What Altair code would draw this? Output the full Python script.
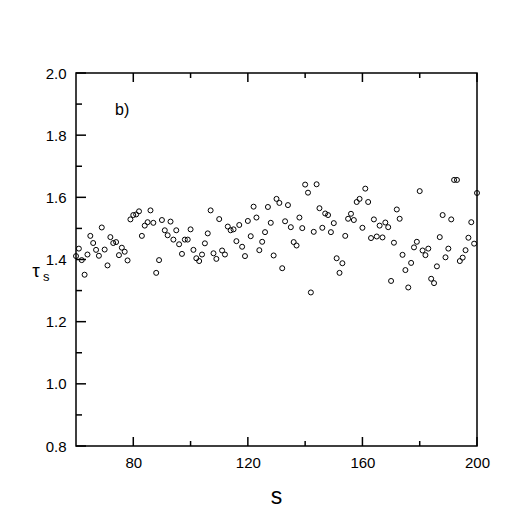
import altair as alt
import pandas as pd

s_vals = list(range(60, 201))
tau_vals = [
    1.411, 1.435, 1.398, 1.351, 1.416, 1.476, 1.453, 1.431, 1.412, 1.503,
    1.432, 1.381, 1.472, 1.453, 1.456, 1.414, 1.438, 1.425, 1.397, 1.529,
    1.543, 1.545, 1.555, 1.476, 1.509, 1.520, 1.558, 1.518, 1.357, 1.398,
    1.527, 1.494, 1.478, 1.522, 1.464, 1.494, 1.449, 1.418, 1.464, 1.464,
    1.497, 1.431, 1.404, 1.395, 1.416, 1.452, 1.484, 1.558, 1.420, 1.402,
    1.530, 1.429, 1.416, 1.506, 1.494, 1.497, 1.459, 1.511, 1.441, 1.411,
    1.524, 1.475, 1.570, 1.535, 1.430, 1.457, 1.488, 1.569, 1.518, 1.413,
    1.595, 1.582, 1.372, 1.523, 1.575, 1.504, 1.456, 1.445, 1.535, 1.501,
    1.641, 1.615, 1.294, 1.489, 1.642, 1.565, 1.502, 1.548, 1.543, 1.488,
    1.517, 1.404, 1.357, 1.388, 1.476, 1.531, 1.547, 1.527, 1.585, 1.595,
    1.502, 1.628, 1.585, 1.469, 1.529, 1.474, 1.509, 1.471, 1.519, 1.504,
    1.331, 1.454, 1.561, 1.531, 1.415, 1.366, 1.310, 1.389, 1.439, 1.457,
    1.620, 1.429, 1.414, 1.435, 1.338, 1.324, 1.378, 1.472, 1.543, 1.407,
    1.435, 1.529, 1.656, 1.656, 1.395, 1.406, 1.430, 1.470, 1.520, 1.451,
    1.614,
]

x_major = [80, 120, 160, 200]
x_minor = [100, 140, 180]
y_major = [0.8, 1.0, 1.2, 1.4, 1.6, 1.8, 2.0]
y_minor = [0.9, 1.1, 1.3, 1.5, 1.7, 1.9]

W, H = 401, 373
FONT = "Liberation Sans"

df = pd.DataFrame({"s": s_vals, "tau": tau_vals})
xs = alt.Scale(domain=[60, 200], nice=False, zero=False)
ys = alt.Scale(domain=[0.8, 2.0], nice=False, zero=False)

points = alt.Chart(df).mark_point(
    shape="circle", filled=False, color="black", size=25, strokeWidth=1, opacity=1
).encode(
    x=alt.X("s:Q", scale=xs,
            axis=alt.Axis(values=x_major, ticks=False, tickSize=0, domain=False,
                          grid=False, title=None, labelFontSize=15, labelFont=FONT,
                          labelColor="black", labelPadding=9, labelFlush=False)),
    y=alt.Y("tau:Q", scale=ys,
            axis=alt.Axis(values=y_major, format=".1f", ticks=False, tickSize=0,
                          domain=False, grid=False, title=None, labelFontSize=15,
                          labelFont=FONT, labelColor="black", labelPadding=10)),
)

def xticks(vals, y0, y1):
    d = pd.DataFrame({"v": vals})
    return alt.Chart(d).mark_rule(color="black", strokeWidth=1.5).encode(
        x=alt.X("v:Q", scale=xs), y=alt.value(y0), y2=alt.value(y1))

def yticks(vals, x0, x1):
    d = pd.DataFrame({"v": vals})
    return alt.Chart(d).mark_rule(color="black", strokeWidth=1.5).encode(
        y=alt.Y("v:Q", scale=ys), x=alt.value(x0), x2=alt.value(x1))

ticks = [
    xticks(x_major, H, H - 9),
    xticks(x_minor, H, H - 5),
    xticks(x_major, 0, 9),
    xticks(x_minor, 0, 5),
    yticks(y_major, 0, 10),
    yticks(y_minor, 0, 6),
]

def label(text, x, y, size, align="left"):
    return alt.Chart(pd.DataFrame({"t": [text]})).mark_text(
        font=FONT, fontSize=size, color="black", align=align, baseline="middle"
    ).encode(text="t:N", x=alt.value(x), y=alt.value(y))

texts = [
    label("b)", 39, 37, 16),
    label("τ", -40, 198, 19, align="center"),
    label("s", -33, 204, 13),
    label("s", W / 2, 424, 23, align="center"),
]

chart = alt.layer(points, *ticks, *texts).properties(
    width=W, height=H,
    autosize=alt.AutoSizeParams(type="none"),
    padding={"left": 68, "top": 65, "right": 41, "bottom": 72},
    background="white",
).configure_view(stroke="black", strokeWidth=1.5)

chart.save("out.html", embed_options={"renderer": "svg", "actions": False})
